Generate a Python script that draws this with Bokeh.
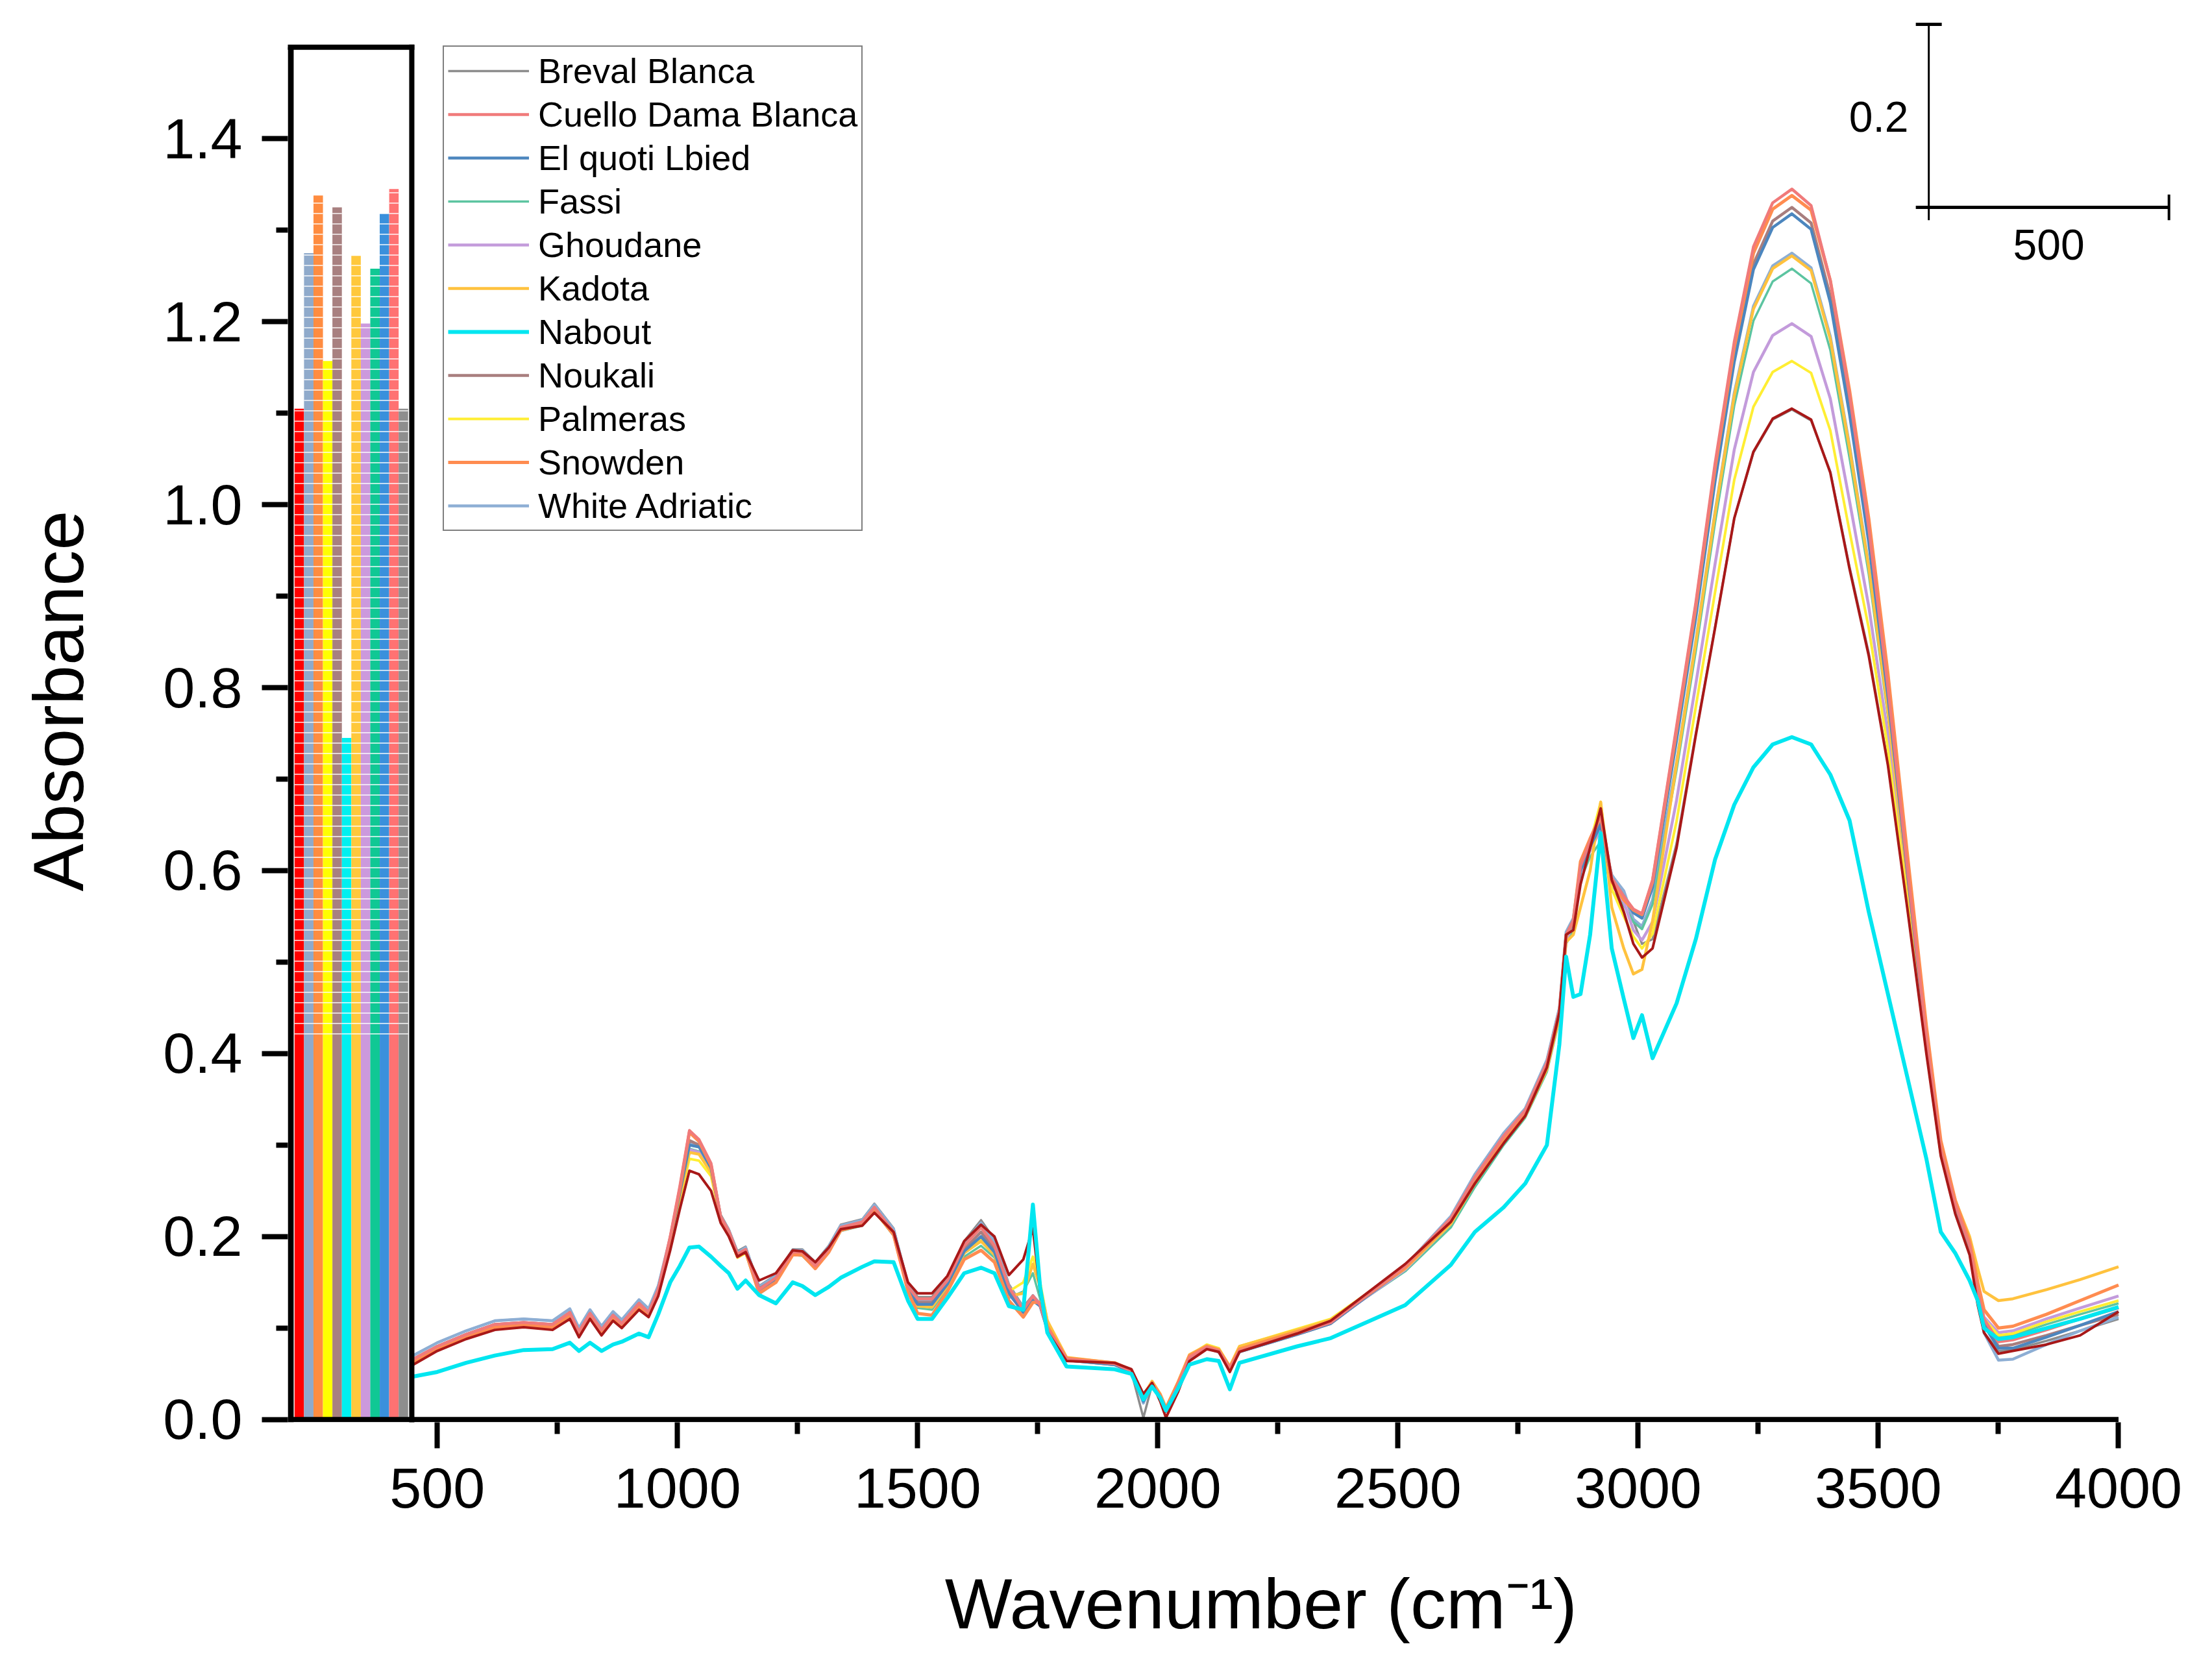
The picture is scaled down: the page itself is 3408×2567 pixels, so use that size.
from bokeh.plotting import figure
from bokeh.models import FixedTicker, PrintfTickFormatter, Range1d, Legend, LegendItem
from bokeh.embed import file_html
from bokeh.resources import INLINE
from bokeh.core.properties import value

# ---------------- data ----------------
wavenumber = [
    450, 500, 560, 620, 680, 740, 776, 795, 818, 842, 866, 884, 920, 940, 960,
    985, 1005, 1025, 1045, 1070, 1090, 1107, 1125, 1142, 1170,
    1205, 1240, 1260, 1287, 1315, 1340, 1385, 1410, 1450, 1480,
    1500, 1530, 1562, 1597, 1632, 1660, 1690, 1720, 1740, 1755,
    1770, 1810, 1910, 1945, 1970, 1988, 2005, 2017, 2042, 2066,
    2102, 2127, 2150, 2170, 2290, 2360, 2515, 2610, 2660, 2720,
    2765, 2810, 2836, 2850, 2865, 2880, 2900, 2922, 2945, 2970,
    2990, 3008, 3030, 3080, 3120, 3160, 3200, 3240, 3280, 3320,
    3360, 3400, 3440, 3480, 3520, 3560, 3600, 3630, 3660, 3690,
    3707, 3720, 3750, 3780, 3850, 3920, 4000]

breval_blanca = [
    .070, .084, .097, .108, .110, .108, .121, .100, .120, .102, .118, .109, .131, .121, .146,
    .198, .250, .300, .298, .278, .224, .208, .184, .189, .146,
    .158, .186, .186, .172, .190, .213, .219, .236, .209, .148,
    .134, .134, .155, .195, .218, .197, .148, .123, .136, .127,
    .099, .066, .061, .052, .002, .038, .024, .009, .037, .067,
    .078, .074, .055, .074, .093, .105, .168, .222, .268, .313,
    .340, .393, .450, .533, .548, .605, .630, .650, .596, .575,
    .545, .520, .525, .630, .750, .866, .985, 1.057, 1.093, 1.104,
    1.092, 1.036, .932, .838, .717, .562, .402, .290, .227, .182,
    .128, .095, .075, .076, .086, .097, .110]

cuello_dama_blanca = [
    .066, .080, .093, .104, .106, .104, .117, .096, .116, .098, .114, .105, .127, .117, .142,
    .200, .255, .316, .306, .280, .222, .206, .181, .186, .142,
    .155, .183, .183, .168, .186, .210, .216, .232, .205, .145,
    .132, .132, .152, .190, .210, .190, .145, .120, .135, .125,
    .100, .066, .061, .053, .022, .039, .025, .010, .038, .068,
    .079, .075, .056, .075, .094, .106, .168, .220, .265, .310,
    .338, .390, .447, .530, .545, .605, .632, .662, .592, .572,
    .558, .553, .590, .758, .893, 1.045, 1.178, 1.282, 1.330, 1.345,
    1.327, 1.245, 1.120, .975, .800, .605, .418, .295, .235, .190,
    .140, .110, .085, .087, .098, .110, .122]

el_quoti_lbied = [
    .065, .079, .092, .103, .105, .103, .116, .095, .115, .097, .113, .104, .126, .116, .141,
    .196, .248, .300, .298, .275, .220, .204, .179, .184, .140,
    .153, .182, .181, .167, .185, .209, .215, .231, .204, .142,
    .126, .126, .148, .184, .200, .183, .138, .117, .130, .124,
    .098, .065, .060, .052, .020, .038, .024, .009, .036, .066,
    .078, .074, .055, .074, .093, .105, .166, .218, .263, .308,
    .336, .388, .445, .528, .543, .600, .626, .650, .590, .572,
    .554, .548, .582, .743, .877, 1.025, 1.156, 1.257, 1.303, 1.318,
    1.301, 1.221, 1.099, .959, .790, .600, .416, .294, .234, .189,
    .137, .103, .078, .078, .090, .103, .118]

fassi = [
    .063, .077, .090, .101, .103, .101, .114, .093, .113, .095, .111, .102, .124, .114, .139,
    .194, .246, .296, .293, .272, .219, .203, .177, .182, .137,
    .150, .180, .179, .165, .183, .206, .212, .228, .201, .140,
    .122, .120, .144, .178, .190, .177, .133, .140, .160, .132,
    .104, .066, .061, .053, .023, .040, .026, .011, .039, .069,
    .080, .076, .057, .078, .096, .107, .162, .210, .254, .300,
    .330, .380, .437, .520, .535, .590, .615, .632, .578, .562,
    .544, .536, .563, .710, .840, .980, 1.108, 1.201, 1.244, 1.258,
    1.242, 1.169, 1.051, .924, .769, .589, .411, .293, .231, .186,
    .140, .110, .090, .092, .104, .115, .127]

ghoudane = [
    .066, .080, .093, .104, .106, .104, .117, .096, .116, .098, .114, .105, .127, .117, .142,
    .195, .247, .295, .292, .272, .220, .204, .179, .184, .140,
    .153, .181, .181, .167, .185, .208, .214, .230, .203, .142,
    .125, .125, .147, .183, .200, .182, .137, .119, .135, .126,
    .100, .066, .061, .053, .022, .039, .025, .010, .038, .068,
    .079, .075, .056, .076, .095, .106, .164, .214, .259, .305,
    .333, .385, .442, .525, .540, .598, .622, .645, .585, .566,
    .535, .524, .544, .677, .804, .935, 1.060, 1.145, 1.185, 1.198,
    1.184, 1.116, 1.004, .889, .748, .577, .407, .291, .229, .184,
    .142, .112, .095, .097, .110, .122, .135]

kadota = [
    .063, .077, .090, .101, .103, .101, .114, .093, .113, .095, .111, .102, .124, .114, .139,
    .192, .243, .292, .290, .270, .220, .204, .178, .183, .139,
    .152, .181, .180, .166, .184, .207, .213, .228, .202, .141,
    .124, .123, .146, .182, .195, .180, .135, .138, .170, .145,
    .108, .068, .062, .054, .026, .042, .028, .013, .041, .071,
    .081, .077, .058, .080, .098, .109, .165, .214, .258, .303,
    .332, .383, .440, .522, .530, .560, .600, .675, .560, .515,
    .487, .492, .545, .717, .849, .990, 1.119, 1.214, 1.258, 1.272,
    1.256, 1.181, 1.062, .932, .774, .591, .413, .293, .240, .200,
    .165, .140, .130, .132, .142, .153, .167]

nabout = [
    .047, .052, .062, .070, .076, .077, .084, .075, .084, .075, .082, .085, .094, .090, .115,
    .150, .168, .188, .189, .178, .168, .160, .143, .152, .136,
    .127, .150, .146, .136, .145, .155, .167, .173, .172, .130,
    .110, .110, .133, .160, .166, .160, .124, .120, .235, .145,
    .095, .058, .055, .050, .022, .036, .024, .010, .034, .060,
    .066, .064, .033, .062, .080, .089, .125, .169, .205, .232,
    .258, .300, .410, .506, .462, .465, .530, .641, .515, .460,
    .417, .442, .395, .455, .525, .612, .672, .713, .738, .746,
    .738, .705, .655, .555, .465, .375, .285, .205, .182, .152,
    .130, .100, .088, .090, .100, .110, .123]

noukali = [
    .066, .080, .093, .104, .106, .104, .117, .096, .116, .098, .114, .105, .127, .117, .142,
    .197, .250, .305, .300, .276, .221, .205, .180, .185, .143,
    .154, .182, .182, .168, .186, .209, .215, .231, .204, .143,
    .128, .128, .150, .186, .205, .186, .140, .118, .132, .125,
    .099, .065, .060, .052, .021, .038, .024, .009, .037, .067,
    .078, .074, .055, .074, .093, .105, .167, .219, .264, .309,
    .337, .389, .446, .530, .545, .602, .628, .652, .590, .572,
    .555, .549, .584, .747, .881, 1.030, 1.162, 1.263, 1.310, 1.325,
    1.308, 1.228, 1.104, .963, .793, .601, .417, .294, .234, .189,
    .138, .105, .080, .082, .092, .103, .115]

palmeras = [
    .063, .077, .090, .101, .103, .101, .114, .093, .113, .095, .111, .102, .124, .114, .139,
    .190, .240, .285, .283, .266, .218, .202, .177, .182, .141,
    .154, .181, .181, .168, .186, .207, .213, .227, .203, .144,
    .127, .126, .148, .183, .198, .183, .140, .150, .178, .150,
    .108, .067, .062, .054, .025, .041, .027, .012, .040, .070,
    .082, .078, .058, .080, .099, .110, .167, .216, .260, .305,
    .334, .386, .444, .527, .545, .600, .630, .675, .580, .550,
    .528, .515, .531, .654, .779, .904, 1.027, 1.107, 1.145, 1.157,
    1.144, 1.081, .971, .865, .733, .570, .404, .290, .227, .182,
    .140, .110, .092, .094, .107, .118, .130]

snowden = [
    .063, .077, .090, .101, .103, .101, .114, .093, .113, .095, .111, .102, .124, .114, .139,
    .198, .252, .314, .304, .278, .220, .204, .178, .184, .138,
    .150, .180, .180, .165, .183, .207, .213, .229, .202, .140,
    .116, .114, .140, .175, .185, .172, .130, .112, .128, .128,
    .102, .067, .062, .054, .024, .040, .027, .012, .040, .070,
    .080, .076, .057, .077, .096, .107, .166, .217, .262, .307,
    .336, .388, .445, .528, .545, .610, .635, .660, .588, .568,
    .557, .552, .588, .754, .889, 1.040, 1.172, 1.275, 1.323, 1.338,
    1.322, 1.245, 1.125, .985, .815, .620, .430, .305, .240, .195,
    .150, .120, .100, .102, .115, .130, .147]

white_adriatic = [
    .070, .084, .097, .108, .110, .108, .121, .100, .120, .102, .118, .109, .131, .121, .146,
    .199, .250, .303, .300, .278, .222, .207, .182, .188, .145,
    .157, .185, .185, .171, .189, .212, .218, .235, .208, .147,
    .130, .130, .153, .192, .215, .194, .146, .121, .134, .126,
    .099, .066, .061, .053, .018, .039, .025, .010, .038, .068,
    .079, .075, .056, .075, .094, .106, .168, .222, .268, .313,
    .340, .393, .450, .533, .548, .606, .630, .648, .595, .578,
    .547, .539, .568, .719, .851, .992, 1.122, 1.217, 1.261, 1.275,
    1.259, 1.184, 1.065, .934, .775, .592, .413, .293, .232, .187,
    .135, .095, .065, .066, .082, .097, .112]

# unlabeled dark red trace (drawn but not in the legend)
dark_red_trace = [
    .060, .075, .088, .098, .101, .098, .110, .090, .110, .092, .108, .100, .120, .112, .135,
    .185, .230, .272, .268, .250, .215, .200, .178, .183, .152,
    .160, .185, .184, .172, .188, .208, .212, .226, .205, .150,
    .138, .138, .157, .195, .213, .200, .158, .175, .209, .140,
    .096, .064, .062, .055, .028, .040, .020, .002, .030, .064,
    .077, .074, .052, .074, .094, .108, .170, .216, .258, .302,
    .332, .385, .445, .530, .535, .585, .625, .668, .590, .555,
    .520, .505, .515, .625, .748, .865, .985, 1.058, 1.094, 1.105,
    1.093, 1.035, .930, .835, .715, .560, .400, .288, .225, .180,
    .125, .095, .072, .075, .082, .092, .118]

bar_heights = [1.105, 1.275, 1.338, 1.157, 1.325, 0.745, 1.272, 1.198, 1.258, 1.318, 1.345, 1.105]
bar_colors = ["#FF0000", "#8FAACB", "#FF8C40", "#FFFF00", "#A88080", "#00F0F0",
              "#FFC83C", "#CC99DD", "#10C894", "#3A90DC", "#FF7272", "#8E8E8E"]

x_ticks = [500, 1000, 1500, 2000, 2500, 3000, 3500, 4000]
x_minor_ticks = [750, 1250, 1750, 2250, 2750, 3250, 3750]
y_ticks = [0.0, 0.2, 0.4, 0.6, 0.8, 1.0, 1.2, 1.4]
y_minor_ticks = [0.1, 0.3, 0.5, 0.7, 0.9, 1.1, 1.3]
scale_bar_labels = ["0.2", "500"]

# ---------------- styles ----------------
FONT = "Liberation Sans"
series = [  # (legend label, values, colour, width)  -- drawing order
    ("Breval Blanca", breval_blanca, "#8C8C8C", 3.5),
    ("White Adriatic", white_adriatic, "#8DAED4", 4.5),
    ("Fassi", fassi, "#5CC4A0", 3.5),
    ("Ghoudane", ghoudane, "#C39BDB", 4.5),
    ("Palmeras", palmeras, "#FFEE33", 4.0),
    ("Kadota", kadota, "#FFC23E", 4.5),
    ("Noukali", noukali, "#A87E7E", 4.5),
    ("El quoti Lbied", el_quoti_lbied, "#4C86BE", 4.5),
    ("Snowden", snowden, "#FF8C50", 5.0),
    ("Cuello Dama Blanca", cuello_dama_blanca, "#F07A7A", 4.5),
    (None, dark_red_trace, "#A81818", 4.0),
    ("Nabout", nabout, "#00E6F0", 6.0),
]
legend_order = ["Breval Blanca", "Cuello Dama Blanca", "El quoti Lbied", "Fassi", "Ghoudane",
                "Kadota", "Nabout", "Noukali", "Palmeras", "Snowden", "White Adriatic"]

p = figure(width=3392, height=2551, x_range=Range1d(189, 4125), y_range=Range1d(-0.003, 1.535),
           output_backend="svg", toolbar_location=None,
           min_border_left=443, min_border_right=36, min_border_top=23, min_border_bottom=360)
p.outline_line_color = None
p.xgrid.visible = False
p.ygrid.visible = False
p.background_fill_color = "white"

for ax in (p.xaxis[0], p.yaxis[0]):
    ax.axis_line_color = None
    ax.major_tick_line_width = 8
    ax.minor_tick_line_width = 8
    ax.major_tick_in = 0
    ax.minor_tick_in = 0
    ax.major_tick_out = 40
    ax.minor_tick_out = 18
    ax.major_label_text_font = FONT
    ax.major_label_text_font_size = "88px"
    ax.major_label_text_color = "black"
    ax.axis_label_text_font = FONT
    ax.axis_label_text_font_size = "110px"
    ax.axis_label_text_font_style = "normal"
    ax.axis_label_text_color = "black"

p.xaxis[0].ticker = FixedTicker(ticks=x_ticks, minor_ticks=x_minor_ticks)
p.yaxis[0].ticker = FixedTicker(ticks=y_ticks, minor_ticks=y_minor_ticks)
p.yaxis[0].formatter = PrintfTickFormatter(format="%.1f")
p.xaxis[0].axis_label = "\u2002\u00a0Wavenumber (cm\u207b\u00b9)"
p.yaxis[0].axis_label = "\u2002Absorbance"
p.xaxis[0].major_label_standoff = 31
p.yaxis[0].major_label_standoff = 30
p.xaxis[0].axis_label_standoff = 83
p.yaxis[0].axis_label_standoff = 97

# artefact bars inside the left box (solid base, white-streaked upper part)
bar_step = 19.7
bar_x = [212.8 + bar_step * i for i in range(len(bar_heights))]
streak_from = 0.42
p.vbar(x=bar_x, top=bar_heights, bottom=0, width=bar_step, fill_color=bar_colors, line_color=None)
p.vbar(x=bar_x, top=bar_heights, bottom=streak_from, width=bar_step, fill_alpha=0,
       line_color=None, hatch_pattern="horizontal_line", hatch_color="white",
       hatch_scale=16, hatch_weight=2, hatch_alpha=0.7)

# spectra
renderers = {}
for name, vals, col, lw in series:
    r = p.line(wavenumber, vals, line_color=col, line_width=lw, line_join="round")
    if name:
        renderers[name] = r

# axis spines and the small box
p.segment(x0=[189], y0=[0], x1=[4000], y1=[0], line_color="black", line_width=8)
p.segment(x0=[195], y0=[-0.003], x1=[195], y1=[1.5], line_color="black", line_width=9)
p.segment(x0=[189, 447], y0=[1.5, -0.003], x1=[447, 447], y1=[1.5, 1.5],
          line_color="black", line_width=8, line_cap="square")

# scale bar (0.2 absorbance x 500 cm-1)
p.segment(x0=[3605], y0=[1.311], x1=[3605], y1=[1.525], line_color="black", line_width=3)
p.segment(x0=[3578], y0=[1.525], x1=[3632], y1=[1.525], line_color="black", line_width=5)
p.segment(x0=[3578], y0=[1.325], x1=[4105], y1=[1.325], line_color="black", line_width=5)
p.segment(x0=[4105], y0=[1.311], x1=[4105], y1=[1.339], line_color="black", line_width=4)
p.text(x=[3501, 3855], y=[1.424, 1.284], text=scale_bar_labels, text_font=value(FONT),
       text_font_size=value("66px"), text_align="center", text_baseline="middle", text_color="black")

legend = Legend(items=[LegendItem(label=n, renderers=[renderers[n]]) for n in legend_order],
                location=(239, 1373), margin=0, padding=6, spacing=5,
                glyph_width=125, glyph_height=40, label_height=62, label_standoff=14,
                label_text_font=FONT, label_text_font_size="54px", label_text_color="black",
                border_line_color="black", border_line_width=2.5,
                background_fill_color="white", background_fill_alpha=1.0)
p.add_layout(legend)

open("out.html", "w").write(file_html(p, INLINE, "FTIR spectra"))
